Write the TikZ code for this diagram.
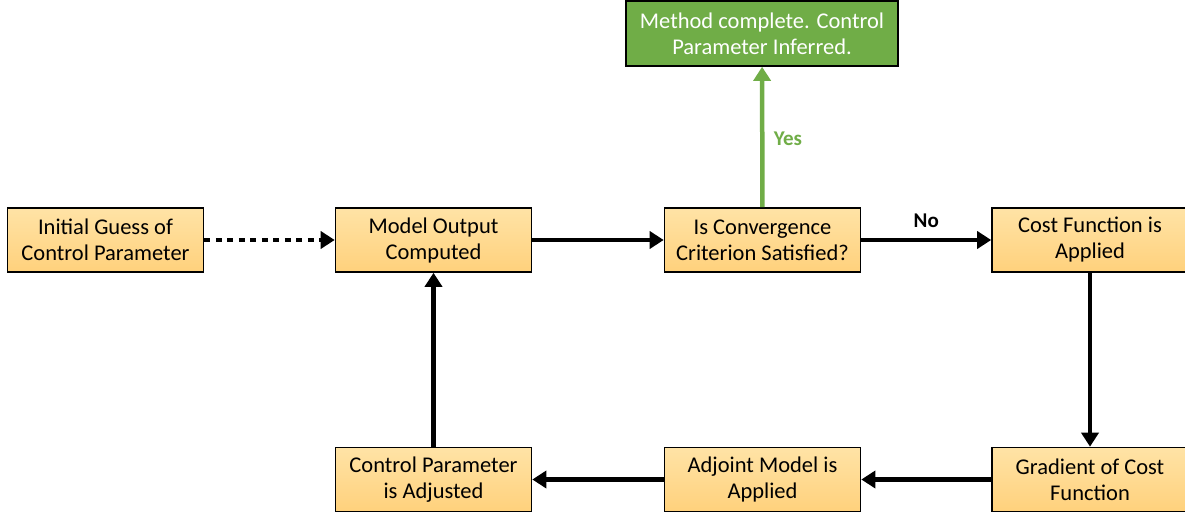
\documentclass[tikz,border=0pt]{standalone}
\usepackage{fontspec}
\setmainfont{Carlito}
\usetikzlibrary{arrows.meta}
\definecolor{boxtop}{HTML}{FFE3A6}
\definecolor{boxbot}{HTML}{FFD17C}
\definecolor{okgreen}{HTML}{70AD47}
\tikzset{
  x=1pt, y=-1pt,
  stepbox/.style={draw=black, line width=1.6pt, top color=boxtop, bottom color=boxbot,
    minimum width=196pt, minimum height=64pt, align=center, inner sep=2pt,
    font=\fontsize{22.5}{26}\selectfont},
  donebox/.style={draw=black, line width=1.6pt, fill=okgreen, text=white,
    minimum width=272pt, minimum height=65pt, align=center, inner sep=2pt,
    font=\fontsize{22.5}{26}\selectfont},
  flow/.style={line width=4.5pt, -{Triangle[length=14pt,width=17pt]}},
  lbl/.style={font=\fontsize{21}{24}\selectfont\bfseries},
}
\begin{document}
\begin{tikzpicture}
\useasboundingbox (0,0) rectangle (1185,516);
% top row
\node[stepbox] (init) at (105.5,240) {Initial Guess of\\Control Parameter};
\node[stepbox] (model) at (433.5,240) {Model Output\\Computed};
\node[stepbox] (conv) at (762.5,240) {Is Convergence\\Criterion Satisfied?};
\node[stepbox] (cost) at (1090,240) {Cost Function is\\Applied};
% result
\node[donebox] (done) at (762,33.5) {Method complete. Control\\Parameter Inferred.};
% bottom row
\node[stepbox] (adjust) at (433.5,479.5) {Control Parameter\\is Adjusted};
\node[stepbox] (adjoint) at (762.5,479.5) {Adjoint Model is\\Applied};
\node[stepbox] (grad) at (1090,479.5) {Gradient of Cost\\Function};
% connectors
\draw[flow, dash pattern=on 6pt off 5.5pt] (init) -- (model);
\draw[flow] (model) -- (conv);
\draw[flow] (conv) -- node[lbl, above=7pt] {No} (cost);
\draw[flow, okgreen] (conv) -- node[lbl, right=6pt, yshift=-2pt, text=okgreen] {Yes} (done);
\draw[flow] (cost) -- (grad);
\draw[flow] (grad) -- (adjoint);
\draw[flow] (adjoint) -- (adjust);
\draw[flow] (adjust) -- (model);
\end{tikzpicture}
\end{document}
